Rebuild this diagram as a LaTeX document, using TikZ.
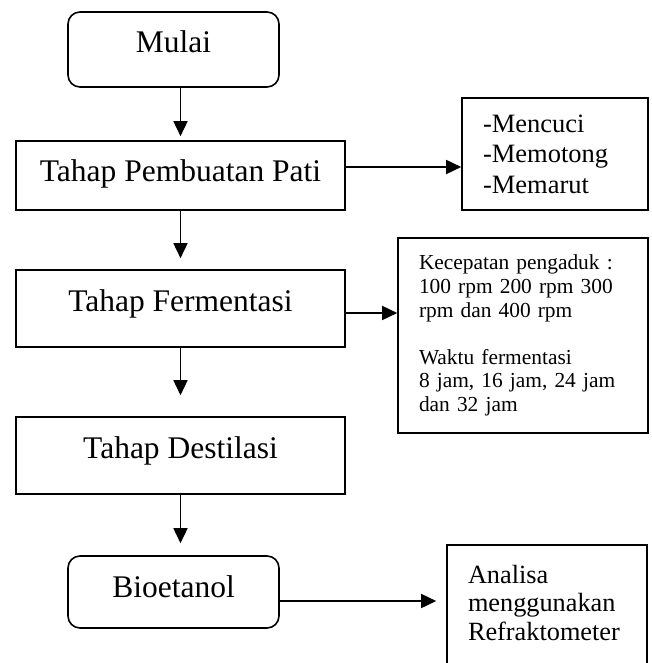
\documentclass[tikz,border=0pt]{standalone}
\usepackage{fontspec}
\setmainfont{Liberation Serif}
\usetikzlibrary{arrows.meta}

\begin{document}
\begin{tikzpicture}[x=1pt, y=-1pt, line width=1.6pt,
	stage/.style={rectangle, draw, minimum width=329pt, text height=21.5pt,
		font=\fontsize{31.5}{36}\selectfont},
	term/.style={stage, rounded corners=12pt, minimum width=211pt},
	note/.style={rectangle, draw, align=left, inner xsep=21pt},
	arr/.style={-{Triangle[length=15pt, width=14pt]}}]
			\useasboundingbox (0,0) rectangle (652,663);
			% main flow
			\node[term, minimum height=75pt, text depth=14.5pt]
				(mulai) at (173.5, 49.5) {Mulai};
			\node[stage, minimum height=69pt, text depth=8.5pt]
				(pati) at (180.5, 175.5) {Tahap Pembuatan Pati};
			\node[stage, minimum height=77pt, text depth=16.5pt]
				(fermentasi) at (180.5, 308.5) {Tahap Fermentasi};
			\node[stage, minimum height=77pt, text depth=16.5pt]
				(destilasi) at (180.5, 455.5) {Tahap Destilasi};
			\node[term, minimum height=72pt, text depth=11.5pt]
				(bioetanol) at (173.5, 592) {Bioetanol};
			% side notes
			\node[note, minimum height=112pt, text width=144pt,
				font=\fontsize{26.5}{30.5}\selectfont]
				(proses) at (555, 154) {-Mencuci\\-Memotong\\-Memarut};
			\node[note, minimum height=195pt, text width=208pt,
				font=\fontsize{21.4}{23.6}\selectfont]
				(kondisi) at (523, 335.5) {Kecepatan pengaduk :\\100 rpm 200 rpm 300\\rpm dan 400 rpm\\[23.6pt]Waktu fermentasi\\8 jam, 16 jam, 24 jam\\dan 32 jam};
			\node[note, anchor=north, inner ysep=20pt, text width=158pt,
				font=\fontsize{26.3}{28.5}\selectfont]
				(analisa) at (547, 544) {Analisa\\menggunakan\\Refraktometer\\\mbox{}};
			% connectors
			\draw[arr, shorten >=4pt] (mulai.south -| pati) -- (pati);
			\draw[arr, shorten >=11pt] (pati) -- (fermentasi);
			\draw[arr, shorten >=21pt] (fermentasi) -- (destilasi);
			\draw[arr, shorten >=12pt] (destilasi) -- (destilasi |- bioetanol.north);
			\draw[arr] ([yshift=8.5pt]pati.east) -- ([yshift=8.5pt]pati.east -| proses.west);
			\draw[arr] ([yshift=-4.5pt]fermentasi.east) -- ([yshift=-4.5pt]fermentasi.east -| kondisi.west);
			\draw[arr, shorten >=10pt] ([yshift=-9pt]bioetanol.east) -- ([yshift=-9pt]bioetanol.east -| analisa.west);
		\end{tikzpicture}
\end{document}
